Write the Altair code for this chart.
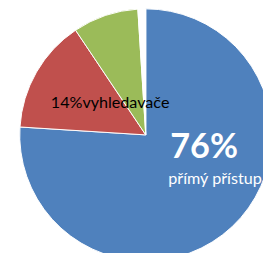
import altair as alt
import pandas as pd

categories = ["přímý přístup", "vyhledavače", "odkazující stránky", "ostatní"]
values = [76.0, 14.6, 8.4, 1.0]
pct_labels = ["76%", "14%", "8%", "1%"]
colors = ["#4F81BD", "#C0504D", "#9BBB59", "#FFFFFF"]

big_text = [pct_labels[0], "", "", ""]
sub_text = [categories[0], "", "", ""]
red_text = ["", pct_labels[1] + categories[1], "", ""]

df = pd.DataFrame({
    "cat": categories,
    "value": values,
    "idx": list(range(len(categories))),
    "big": big_text,
    "sub": sub_text,
    "red": red_text,
})

base = alt.Chart(df).encode(
    theta=alt.Theta("value:Q", stack=True),
    order=alt.Order("idx:Q"),
    detail=alt.Detail("cat:N"),
)

pie = base.mark_arc(outerRadius=129, stroke="white", strokeWidth=1).encode(
    color=alt.Color("cat:N", scale=alt.Scale(domain=categories, range=colors), legend=None)
)

t_big = base.mark_text(radius=60, dx=-16, dy=-31, align="left", baseline="middle",
                       font="Lato", fontSize=35, fontWeight="bold", color="white").encode(text="big:N")
t_sub = base.mark_text(radius=60, dx=-18, dy=1.2, align="left", baseline="middle",
                       font="Lato", fontSize=16.5, color="white").encode(text="sub:N")
t_red = base.mark_text(radius=44, dx=-59, dy=-11, align="left", baseline="middle",
                       font="Lato", fontSize=16.5, color="black").encode(text="red:N")

chart = alt.layer(pie, t_big, t_sub, t_red).properties(
    width=240,
    height=236,
    padding={"left": 21, "top": 9, "right": 0, "bottom": 0},
    autosize=alt.AutoSizeParams(type="none"),
).configure_view(stroke=None)

chart.save("out.html", embed_options={"renderer": "svg", "actions": False})
